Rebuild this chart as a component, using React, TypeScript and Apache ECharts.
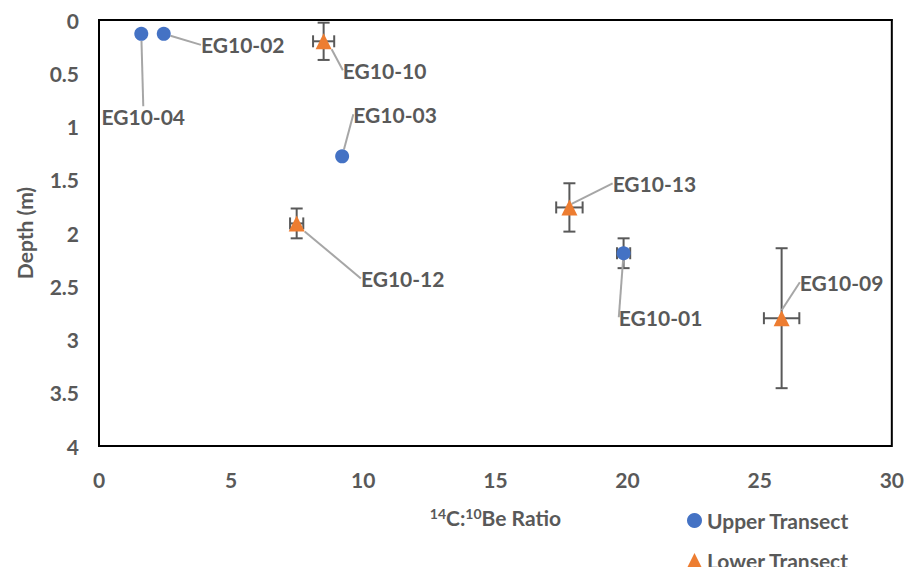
import React, { useEffect, useRef } from "react";
import * as echarts from "echarts";

const upperNames = ["EG10-04", "EG10-02", "EG10-03", "EG10-01"];
const upperX = [1.6, 2.45, 9.2, 19.85];
const upperY = [0.13, 0.13, 1.28, 2.19];
const upperXErr = [0, 0, 0, 0.25];
const upperYErr = [0, 0, 0, 0.14];
const upperLabelOffset = [[2, 83], [79, 11], [53, -42], [37, 64]];

const lowerNames = ["EG10-10", "EG10-12", "EG10-13", "EG10-09"];
const lowerX = [8.5, 7.48, 17.8, 25.83];
const lowerY = [0.2, 1.91, 1.76, 2.8];
const lowerXErr = [0.4, 0.25, 0.5, 0.67];
const lowerYErr = [0.175, 0.14, 0.227, 0.657];
const lowerLabelOffset = [[61, 29], [106, 55], [85, -24], [60, -36]];

const FONT = "Lato";
const FS = 21;
const GRAY = "#595959";

function errData(xs: number[], ys: number[], xe: number[], ye: number[]) {
  return xs.map((x, i) => [x, ys[i], xe[i], ye[i]]);
}

export default function App() {
  const ref = useRef<HTMLDivElement>(null);
  useEffect(() => {
    if (!ref.current) return;
    const chart = echarts.init(ref.current, null, { renderer: "svg" });
    const renderErr = (params: any, api: any) => {
      const x = api.value(0), y = api.value(1), xe = api.value(2), ye = api.value(3);
      const children: any[] = [];
      const style = { stroke: GRAY, lineWidth: 2 };
      const cap = 6;
      if (ye > 0) {
        const a = api.coord([x, y - ye]);
        const b = api.coord([x, y + ye]);
        children.push({ type: "line", shape: { x1: a[0], y1: a[1], x2: b[0], y2: b[1] }, style });
        children.push({ type: "line", shape: { x1: a[0] - cap, y1: a[1], x2: a[0] + cap, y2: a[1] }, style });
        children.push({ type: "line", shape: { x1: b[0] - cap, y1: b[1], x2: b[0] + cap, y2: b[1] }, style });
      }
      if (xe > 0) {
        const a = api.coord([x - xe, y]);
        const b = api.coord([x + xe, y]);
        children.push({ type: "line", shape: { x1: a[0], y1: a[1], x2: b[0], y2: b[1] }, style });
        children.push({ type: "line", shape: { x1: a[0], y1: a[1] - cap, x2: a[0], y2: a[1] + cap }, style });
        children.push({ type: "line", shape: { x1: b[0], y1: b[1] - cap, x2: b[0], y2: b[1] + cap }, style });
      }
      return { type: "group", children };
    };
    const labelCfg = {
      show: true,
      position: "inside",
      formatter: (p: any) => p.name,
      fontFamily: FONT,
      fontWeight: "bold",
      fontSize: FS,
      color: GRAY,
    };
    const labelLine = { show: true, lineStyle: { color: "#A6A6A6", width: 2 } };
    const legendText = { fontFamily: FONT, fontSize: FS, fontWeight: "bold", color: GRAY };
    chart.setOption({
      animation: false,
      grid: { left: 99, right: 15, top: 20, bottom: 121, show: true, borderColor: "#000", borderWidth: 2 },
      xAxis: {
        type: "value",
        min: 0,
        max: 30,
        interval: 5,
        name: "{sup|14}{n|C:}{sup|10}{n|Be Ratio}",
        nameLocation: "middle",
        nameGap: 60,
        nameTextStyle: {
          rich: {
            n: { fontFamily: FONT, fontSize: FS, color: GRAY, fontWeight: "bold", verticalAlign: "bottom" },
            sup: { fontFamily: FONT, fontSize: 14, color: GRAY, fontWeight: "bold", verticalAlign: "top", padding: [0, 0, 8, 0] },
          },
        },
        axisLine: { show: true, lineStyle: { color: "#000", width: 2 } },
        axisTick: { show: false },
        splitLine: { show: false },
        axisLabel: { fontFamily: FONT, fontSize: FS, fontWeight: "bold", color: GRAY, margin: 23 },
      },
      yAxis: {
        type: "value",
        inverse: true,
        min: 0,
        max: 4,
        interval: 0.5,
        name: "Depth (m)",
        nameLocation: "middle",
        nameGap: 64,
        nameTextStyle: { fontFamily: FONT, fontSize: FS, fontWeight: "bold", color: GRAY },
        axisLine: { show: true, lineStyle: { color: "#000", width: 2 } },
        axisTick: { show: false },
        splitLine: { show: false },
        axisLabel: { fontFamily: FONT, fontSize: FS, fontWeight: "bold", color: GRAY, margin: 20 },
      },
      legend: [
        {
          left: 682,
          top: 505,
          itemWidth: 15,
          itemHeight: 15,
          textStyle: legendText,
          data: [{ name: "Upper Transect", icon: "circle" }],
        },
        {
          left: 682,
          top: 545,
          itemWidth: 15,
          itemHeight: 15,
          textStyle: legendText,
          data: [{ name: "Lower Transect", icon: "triangle" }],
        },
      ],
      series: [
        {
          type: "custom",
          name: "errU",
          renderItem: renderErr,
          data: errData(upperX, upperY, upperXErr, upperYErr),
          z: 1,
          silent: true,
        },
        {
          type: "custom",
          name: "errL",
          renderItem: renderErr,
          data: errData(lowerX, lowerY, lowerXErr, lowerYErr),
          z: 1,
          silent: true,
        },
        {
          type: "scatter",
          name: "Upper Transect",
          symbol: "circle",
          symbolSize: 14,
          itemStyle: { color: "#4472C4", opacity: 1 },
          data: upperX.map((x, i) => ({ name: upperNames[i], value: [x, upperY[i]] })),
          label: labelCfg,
          labelLine,
          labelLayout: (p: any) => ({ dx: upperLabelOffset[p.dataIndex][0], dy: upperLabelOffset[p.dataIndex][1] }),
          z: 3,
        },
        {
          type: "scatter",
          name: "Lower Transect",
          symbol: "triangle",
          symbolSize: 16,
          itemStyle: { color: "#ED7D31", opacity: 1 },
          data: lowerX.map((x, i) => ({ name: lowerNames[i], value: [x, lowerY[i]] })),
          label: labelCfg,
          labelLine,
          labelLayout: (p: any) => ({ dx: lowerLabelOffset[p.dataIndex][0], dy: lowerLabelOffset[p.dataIndex][1] }),
          z: 3,
        },
      ],
    });
    return () => chart.dispose();
  }, []);
  return <div ref={ref} style={{ width: 907, height: 567, position: "absolute", left: 0, top: 0, background: "#fff" }} />;
}
